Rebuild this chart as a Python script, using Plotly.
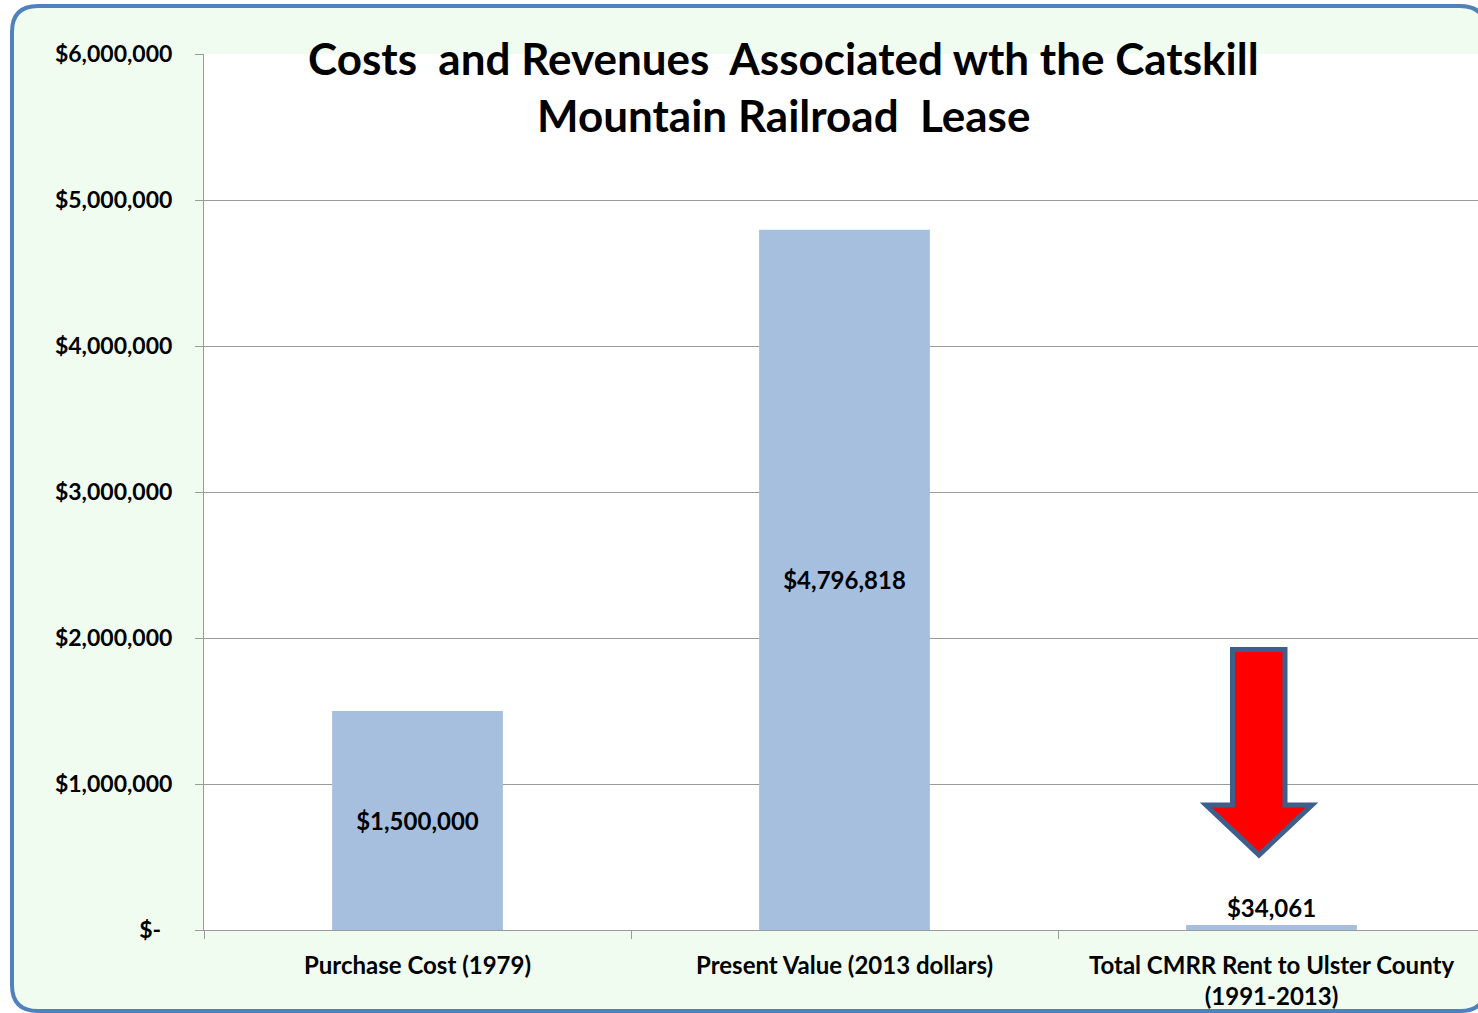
import plotly.graph_objects as go

# ---- data ----
categories = ["Purchase Cost (1979)", "Present Value (2013 dollars)",
              "Total CMRR Rent to Ulster County<br>(1991-2013)"]
values = [1500000, 4796818, 34061]
label_positions = ["inside", "inside", "outside"]
tick_values = [0, 1000000, 2000000, 3000000, 4000000, 5000000, 6000000]
tick_labels = ["$-\u00a0\u00a0", "$1,000,000", "$2,000,000", "$3,000,000",
               "$4,000,000", "$5,000,000", "$6,000,000"]
title_lines = ["Costs \u00a0and Revenues \u00a0Associated wth the Catskill",
               "Mountain Railroad \u00a0Lease"]

W, H = 1478, 1013
L, T, B = 204, 54, 83
PW, PH = W - L, H - T - B

def px(x):
    return (x - L) / PW

def py(y):
    return (H - B - y) / PH

FONT = "Lato"
GRID = "#9a9a9a"

fig = go.Figure()
fig.add_trace(go.Bar(
    x=categories, y=values, width=0.4,
    marker=dict(color="#a7bfde", line=dict(width=0)),
    text=[f"${v:,}" for v in values],
    textposition=label_positions,
    insidetextanchor="middle",
    textfont=dict(family=FONT, size=24, color="black", weight="bold"),
    cliponaxis=False,
))

# rounded frame
x0, y0, x1, y1, r = 12, 6, 1486, 1011, 26
frame = (f"M {px(x0+r)} {py(y0)} L {px(x1-r)} {py(y0)} Q {px(x1)} {py(y0)} {px(x1)} {py(y0+r)} "
         f"L {px(x1)} {py(y1-r)} Q {px(x1)} {py(y1)} {px(x1-r)} {py(y1)} "
         f"L {px(x0+r)} {py(y1)} Q {px(x0)} {py(y1)} {px(x0)} {py(y1-r)} "
         f"L {px(x0)} {py(y0+r)} Q {px(x0)} {py(y0)} {px(x0+r)} {py(y0)} Z")
shapes = [
    dict(type="path", path=frame, xref="paper", yref="paper", layer="below",
         fillcolor="#f1fcf1", line=dict(color="#4f81bd", width=4)),
    dict(type="rect", xref="x domain", yref="y domain", x0=0, x1=1, y0=0, y1=1,
         layer="below", fillcolor="white", line=dict(width=0)),
]

# red arrow
pts = [(1232.5, 649.5), (1285, 649.5), (1285, 805), (1312, 805), (1259, 855),
       (1206, 805), (1232.5, 805)]
arrow = "M " + " L ".join(f"{px(a)} {py(b)}" for a, b in pts) + " Z"
shapes.append(dict(type="path", path=arrow, xref="paper", yref="paper", layer="above",
                   fillcolor="#ff0000", line=dict(color="#3c5f8c", width=5)))

annotations = [
    dict(text=title_lines[0], x=px(783), y=py(58), xref="paper", yref="paper",
         xanchor="center", yanchor="middle", showarrow=False,
         font=dict(family=FONT, size=44, color="black", weight="bold")),
    dict(text=title_lines[1], x=px(783), y=py(115), xref="paper", yref="paper",
         xanchor="center", yanchor="middle", showarrow=False,
         font=dict(family=FONT, size=44, color="black", weight="bold")),
]

fig.update_layout(
    width=W, height=H,
    margin=dict(l=L, r=0, t=T, b=B, pad=0),
    paper_bgcolor="white", plot_bgcolor="white",
    showlegend=False,
    shapes=shapes, annotations=annotations,
    xaxis=dict(
        type="category", range=[-0.5, -0.5 + PW / 427],
        showline=True, linecolor=GRID, linewidth=1,
        ticks="outside", ticklen=8, tickcolor=GRID, tickson="boundaries",
        showgrid=False, ticklabelstandoff=14,
        tickfont=dict(family=FONT, size=24, color="black", weight="bold"),
    ),
    yaxis=dict(
        range=[0, 6000000], tickvals=tick_values, ticktext=tick_labels,
        showline=True, linecolor=GRID, linewidth=1,
        ticks="outside", ticklen=8, tickcolor=GRID,
        showgrid=True, gridcolor=GRID, gridwidth=1, zeroline=False,
        ticklabelstandoff=18,
        tickfont=dict(family=FONT, size=23, color="black", weight="bold"),
    ),
)

fig.write_html("out.html")
